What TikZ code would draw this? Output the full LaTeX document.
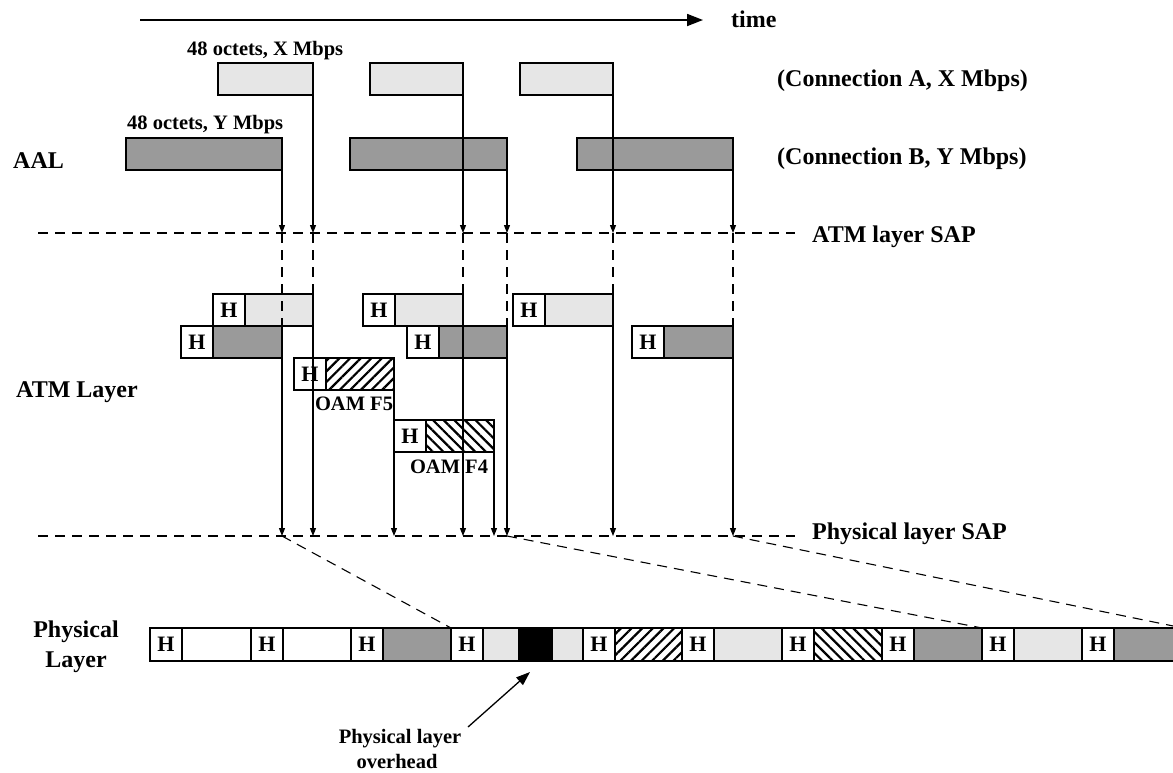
\documentclass[tikz,border=0pt]{standalone}
\usepackage{fontspec}
\setmainfont{Liberation Serif}
\usetikzlibrary{arrows.meta,patterns.meta}
\definecolor{lightg}{HTML}{E6E6E6}
\definecolor{darkg}{HTML}{9A9A9A}
\newcommand{\mycell}[5]{%
  \node[hbox] (#1h) at (#2,#3) {H};
  \node[#5, minimum width=#4pt] (#1) at (#1h.north east) {};}
\newcommand{\pcell}[4]{%
  \node[hbox, minimum height=33pt] (#1h) at (#2,628) {H};
  \node[#4, minimum width=#3pt, minimum height=33pt] (#1) at (#1h.north east) {};}
\begin{document}
\begin{tikzpicture}[x=1pt,y=-1pt,
  box/.style={draw, line width=1.2pt, inner sep=0pt, outer sep=0pt, minimum height=32pt, anchor=north west},
  lbox/.style={box, fill=lightg},
  dbox/.style={box, fill=darkg},
  wbox/.style={box, fill=white},
  kbox/.style={box, fill=black},
  fivebox/.style={box, pattern={Lines[angle=45,distance=7.5pt,line width=2.2pt]}},
  fourbox/.style={box, pattern={Lines[angle=-45,distance=7.5pt,line width=2.2pt]}},
  hbox/.style={box, fill=white, minimum width=32pt, font=\fontsize{22}{24}\selectfont\bfseries},
  arr/.style={line width=1.1pt, -{Triangle[length=8pt,width=6pt]}},
  dline/.style={line width=1.1pt, dash pattern=on 10pt off 7pt},
  lab/.style={font=\fontsize{24}{28}\selectfont\bfseries, inner sep=0pt, anchor=base west},
  slab/.style={font=\fontsize{20.5}{24}\selectfont\bfseries, inner sep=0pt},
]
\useasboundingbox (0,0) rectangle (1173,772);

% time arrow
\coordinate (t0) at (140,20);
\coordinate (t1) at (703,20);
\draw[line width=1.8pt, -{Triangle[length=16pt,width=12pt]}] (t0) -- (t1);
\node[lab] (time) at (731,27) {time};

% AAL
\node[lbox, minimum width=95pt] (a1) at (218,63) {};
\node[lbox, minimum width=93pt] (a2) at (370,63) {};
\node[lbox, minimum width=93pt] (a3) at (520,63) {};
\node[dbox, minimum width=156pt] (b1) at (126,138) {};
\node[dbox, minimum width=157pt] (b2) at (350,138) {};
\node[dbox, minimum width=156pt] (b3) at (577,138) {};
\node[slab, anchor=base west] (lx) at (187,55) {48 octets, X Mbps};
\node[slab, anchor=base west] (ly) at (127,129) {48 octets, Y Mbps};
\node[lab] (ca) at (777,86) {(Connection A, X Mbps)};
\node[lab] (cb) at (777,164) {(Connection B, Y Mbps)};
\node[lab] (aal) at (13,168) {AAL};

% SAP lines
\coordinate (as0) at (38,233);
\coordinate (as1) at (795,233);
\draw[dline] (as0) -- (as1);
\node[lab] (asl) at (812,242) {ATM layer SAP};
\coordinate (ps0) at (38,536);
\coordinate (ps1) at (795,536);
\draw[dline] (ps0) -- (ps1);
\node[lab] (psl) at (812,539) {Physical layer SAP};

% ATM layer cells
\mycell{ca1}{213}{294}{68}{lbox}
\mycell{cb1}{181}{326}{69}{dbox}
\mycell{cf5}{294}{358}{68}{fivebox}
\mycell{ca2}{363}{294}{68}{lbox}
\mycell{cb2}{407}{326}{68}{dbox}
\mycell{cf4}{394}{420}{68}{fourbox}
\mycell{ca3}{513}{294}{68}{lbox}
\mycell{cb3}{632}{326}{69}{dbox}
\node[slab, anchor=base] (o5) at (354,410) {OAM F5};
\node[slab, anchor=base] (o4) at (449,473) {OAM F4};
\node[lab] (atml) at (16,397) {ATM Layer};

% connectors AAL -> ATM SAP -> cells
\foreach \n in {a1,a2,a3,b1,b2,b3}
  \draw[arr] (\n.south east) -- (\n.south east |- as0);
\draw[dline] (a1.south east |- as0) -- (ca1.north east);
\draw[dline] (a2.south east |- as0) -- (ca2.north east);
\draw[dline] (a3.south east |- as0) -- (ca3.north east);
\draw[dline] (b1.south east |- as0) -- (cb1.north east);
\draw[dline] (b2.south east |- as0) -- (cb2.north east);
\draw[dline] (b3.south east |- as0) -- (cb3.north east);
\foreach \n in {ca1,ca2,ca3,cb1,cb2,cb3,cf5,cf4}
  \draw[arr] (\n.south east) -- (\n.south east |- ps0);

% physical layer
\begin{scope}
\clip (0,0) rectangle (1173,772);
\pcell{p1}{150}{69}{wbox}
\pcell{p2}{251}{68}{wbox}
\pcell{p3}{351}{68}{dbox}
\pcell{p4}{451}{36}{lbox}
\node[kbox, minimum width=33pt, minimum height=33pt] (pk) at (p4.north east) {};
\node[lbox, minimum width=31pt, minimum height=33pt] (p4b) at (pk.north east) {};
\pcell{p5}{583}{67}{fivebox}
\pcell{p6}{682}{68}{lbox}
\pcell{p7}{782}{68}{fourbox}
\pcell{p8}{882}{68}{dbox}
\pcell{p9}{982}{68}{lbox}
\pcell{p10}{1082}{69}{dbox}
\draw[dline] (cb1.south east |- ps0) -- (p3.north east);
\draw[dline] (cb2.south east |- ps0) -- (p8.north east);
\draw[dline] (cb3.south east |- ps0) -- (p10.north east);
\end{scope}
\node[lab, anchor=base] (pl1) at (76,637) {Physical};
\node[lab, anchor=base] (pl2) at (76,667) {Layer};

% overhead
\node[slab, anchor=base] (ov1) at (400,743) {Physical layer};
\node[slab, anchor=base] (ov2) at (397,768) {overhead};
\coordinate (ovt) at (468,727);
\coordinate (ovh) at (530,672);
\draw[line width=1.3pt, -{Triangle[length=14pt,width=10pt]}] (ovt) -- (ovh);
\end{tikzpicture}
\end{document}
